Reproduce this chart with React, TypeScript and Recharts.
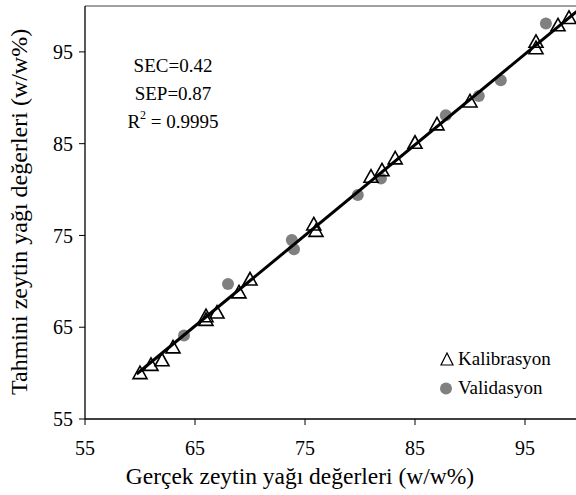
import { ScatterChart, Scatter, XAxis, YAxis, ReferenceLine, Label } from "recharts";

// Kalibrasyon (open triangles)
const calX = [60, 61, 62, 63, 66, 66, 67, 69, 70, 75.8, 76, 81, 82, 83.2, 85, 87, 90, 96, 96, 98, 99];
const calY = [60, 60.9, 61.4, 62.8, 65.8, 66.2, 66.6, 68.8, 70.2, 76.2, 75.5, 81.4, 82.1, 83.4, 85.1, 87.1, 89.6, 96.1, 95.4, 97.9, 98.7];

// Validasyon (grey dots)
const valX = [64, 68, 73.8, 74, 79.8, 81.9, 87.8, 90.8, 92.8, 96.9];
const valY = [64.1, 69.7, 74.5, 73.5, 79.4, 81.2, 88.1, 90.2, 91.9, 98.1];

// regression line ends
const fitX = [59.7, 99.7];
const fitY = [59.9, 99.4];

const xTicks = [55, 65, 75, 85, 95];
const yTicks = [55, 65, 75, 85, 95];

const font = '"Liberation Serif", "Times New Roman", serif';

const toPoints = (xs: number[], ys: number[]) => xs.map((x, i) => ({ x, y: ys[i] }));
const calibration = toPoints(calX, calY);
const validation = toPoints(valX, valY);
const fit = toPoints(fitX, fitY);

function Triangle({ cx, cy }: { cx?: number; cy?: number }) {
  if (cx == null || cy == null) return null;
  return (
    <polygon
      points={`${cx},${cy - 7} ${cx - 7},${cy + 5.5} ${cx + 7},${cy + 5.5}`}
      fill="none"
      stroke="#000"
      strokeWidth={1.6}
    />
  );
}

function Dot({ cx, cy }: { cx?: number; cy?: number }) {
  if (cx == null || cy == null) return null;
  return <circle cx={cx} cy={cy} r={6} fill="#808080" />;
}

function XTitle() {
  return (
    <text x={300} y={484} textAnchor="middle" fontSize={23.5} fontFamily={font} fill="#000">
      Gerçek zeytin yağı değerleri (w/w%)
    </text>
  );
}

export default function App() {
  return (
    <div
      style={{
        position: "fixed",
        left: 0,
        top: 0,
        width: 576,
        height: 495,
        overflow: "hidden",
        background: "#fff",
        fontFamily: font,
        color: "#000",
      }}
    >
      <ScatterChart width={600} height={495} margin={{ top: 6, right: 20, bottom: 0, left: 0 }}>
        <XAxis
          type="number"
          dataKey="x"
          domain={[55, 100]}
          ticks={xTicks}
          height={76}
          tickSize={6}
          tickMargin={16}
          axisLine={{ stroke: "#000", strokeWidth: 1.3 }}
          tickLine={{ stroke: "#000", strokeWidth: 1 }}
          tick={{ fill: "#000", fontSize: 20, fontFamily: font }}
        >
          <Label content={<XTitle />} />
        </XAxis>
        <YAxis
          type="number"
          dataKey="y"
          domain={[55, 100]}
          ticks={yTicks}
          width={85}
          tickSize={6}
          tickMargin={6}
          axisLine={{ stroke: "#000", strokeWidth: 1.3 }}
          tickLine={{ stroke: "#000", strokeWidth: 1 }}
          tick={{ fill: "#000", fontSize: 20, fontFamily: font }}
        />
        <ReferenceLine y={100} stroke="#808080" strokeWidth={1.5} />
        <Scatter name="Validasyon" data={validation} shape={<Dot />} isAnimationActive={false} />
        <Scatter name="Kalibrasyon" data={calibration} shape={<Triangle />} isAnimationActive={false} />
        <Scatter
          data={fit}
          line={{ stroke: "#000", strokeWidth: 3 }}
          shape={() => <g />}
          isAnimationActive={false}
        />
      </ScatterChart>

      {/* y title, cut off at the top like in the source figure */}
      <div style={{ position: "absolute", left: 0, top: 28, width: 60, height: 400, overflow: "hidden" }}>
        <div
          style={{
            position: "absolute",
            left: 7,
            top: 367,
            transform: "rotate(-90deg)",
            transformOrigin: "0 0",
            whiteSpace: "nowrap",
            fontSize: 24,
            lineHeight: "24px",
          }}
        >
          Tahmini zeytin yağı değerleri (w/w%)
        </div>
      </div>

      <div
        style={{
          position: "absolute",
          left: 113,
          top: 51.5,
          width: 120,
          textAlign: "center",
          fontSize: 19,
          lineHeight: "28px",
        }}
      >
        <div>SEC=0.42</div>
        <div>SEP=0.87</div>
        <div>
          R<span style={{ fontSize: 12, position: "relative", top: -9 }}>2</span> = 0.9995
        </div>
      </div>

      <div style={{ position: "absolute", left: 440, top: 348.6, fontSize: 19, lineHeight: "20px", whiteSpace: "nowrap" }}>
        <svg width={14} height={14} style={{ position: "absolute", left: 0, top: 3.5 }}>
          <polygon points="7,1 1,13 13,13" fill="none" stroke="#000" strokeWidth={1.2} />
        </svg>
        <span style={{ position: "absolute", left: 18 }}>Kalibrasyon</span>
      </div>
      <div style={{ position: "absolute", left: 440, top: 378.2, fontSize: 19, lineHeight: "20px", whiteSpace: "nowrap" }}>
        <svg width={14} height={14} style={{ position: "absolute", left: 0, top: 3.5 }}>
          <circle cx={6} cy={6.5} r={6} fill="#808080" />
        </svg>
        <span style={{ position: "absolute", left: 18 }}>Validasyon</span>
      </div>
    </div>
  );
}
